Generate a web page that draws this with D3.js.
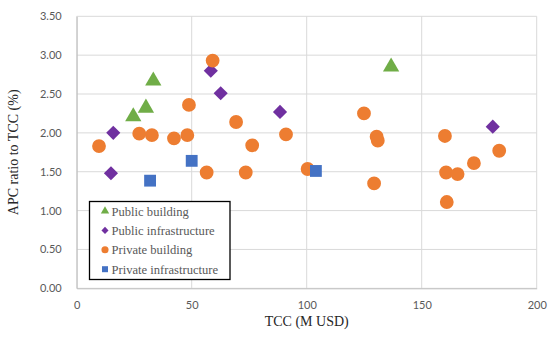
<!DOCTYPE html>
<html>
<head>
<meta charset="utf-8">
<script src="https://cdn.jsdelivr.net/npm/d3@7"></script>
<style>
  body { margin: 0; background: #fff; }
  svg { display: block; }
</style>
</head>
<body>
<svg width="550" height="340"></svg>
<script>
// data: [TCC, APC ratio]
const publicBuilding = [[24.6, 2.21], [30.1, 2.32], [33.3, 2.67], [136.7, 2.85]];
const publicInfra = [[15.9, 2.00], [14.9, 1.48], [58.3, 2.80], [62.6, 2.51], [88.4, 2.27], [180.9, 2.08]];
const privateBuilding = [
  [9.7, 1.83], [27.2, 1.99], [32.7, 1.97], [42.3, 1.93], [48.1, 1.97], [48.8, 2.36],
  [59.1, 2.93], [56.5, 1.49], [69.3, 2.14], [73.5, 1.49], [76.3, 1.84], [91.0, 1.98],
  [100.4, 1.535], [124.9, 2.25], [130.4, 1.95], [130.9, 1.90], [129.3, 1.35],
  [160.1, 1.96], [160.6, 1.49], [165.6, 1.47], [160.9, 1.11], [172.7, 1.61], [183.7, 1.77]
];
const privateInfra = [[31.9, 1.385], [50.0, 1.64], [104.0, 1.51]];
const xTicks = [0, 50, 100, 150, 200];
const yTicks = [0, 0.5, 1, 1.5, 2, 2.5, 3, 3.5];

// diamond = square turned 45 degrees (d3's own diamond is too narrow)
const series = [
  { name: "Public building", data: publicBuilding, color: "#70AD47", shape: d3.symbolTriangle, rot: 0 },
  { name: "Public infrastructure", data: publicInfra, color: "#7030A0", shape: d3.symbolSquare, rot: 45 },
  { name: "Private building", data: privateBuilding, color: "#ED7D31", shape: d3.symbolCircle, rot: 0 },
  { name: "Private infrastructure", data: privateInfra, color: "#4472C4", shape: d3.symbolSquare, rot: 0 }
];
// bigger markers for the plot, small ones for the legend
const plotSize = { "Public building": 115, "Public infrastructure": 100, "Private building": 150, "Private infrastructure": 140 };
const legSize = { "Public building": 30, "Public infrastructure": 25, "Private building": 40, "Private infrastructure": 36 };

const svg = d3.select("svg");
const x = d3.scaleLinear().domain([0, 200]).range([76.7, 536.7]);
const y = d3.scaleLinear().domain([0, 3.5]).range([288.3, 16.3]);

// gridlines
svg.append("g").selectAll("line.v")
  .data(xTicks)
  .join("line")
    .attr("x1", d => x(d)).attr("x2", d => x(d))
    .attr("y1", y(0)).attr("y2", y(3.5))
    .attr("stroke", "#d9d9d9").attr("stroke-width", 1);
svg.append("g").selectAll("line.h")
  .data(yTicks)
  .join("line")
    .attr("x1", x(0)).attr("x2", x(200))
    .attr("y1", d => y(d)).attr("y2", d => y(d))
    .attr("stroke", "#d9d9d9").attr("stroke-width", 1);

// axes
const xAxis = svg.append("g")
  .attr("transform", `translate(0,${y(0)})`)
  .call(d3.axisBottom(x).tickValues(xTicks).tickSize(0).tickPadding(13));
const yAxis = svg.append("g")
  .attr("transform", `translate(${x(0)},0)`)
  .call(d3.axisLeft(y).tickValues(yTicks).tickFormat(d3.format(".2f")).tickSize(0).tickPadding(15));
[xAxis, yAxis].forEach(a => {
  a.select(".domain").attr("stroke", "#bfbfbf");
  a.selectAll("text").attr("fill", "#595959")
    .style("font-family", "Lato, 'Open Sans', sans-serif").style("font-size", "11px");
});

// points
series.forEach(s => {
  const sym = d3.symbol().type(s.shape).size(plotSize[s.name]);
  svg.append("g").selectAll("path")
    .data(s.data)
    .join("path")
      .attr("transform", d => `translate(${x(d[0])},${y(d[1])}) rotate(${s.rot})`)
      .attr("d", sym)
      .attr("fill", s.color);
});

// axis titles
svg.append("text")
  .attr("x", x(100)).attr("y", 326)
  .attr("text-anchor", "middle")
  .attr("fill", "#262626")
  .style("font-family", "'Liberation Serif', 'Times New Roman', serif").style("font-size", "14px")
  .text("TCC (M USD)");
svg.append("text")
  .attr("transform", `translate(18,${(y(0) + y(3.5)) / 2}) rotate(-90)`)
  .attr("text-anchor", "middle")
  .attr("fill", "#262626")
  .style("font-family", "'Liberation Serif', 'Times New Roman', serif").style("font-size", "14px")
  .text("APC ratio to TCC (%)");

// legend
const leg = svg.append("g");
leg.append("rect")
  .attr("x", 89.5).attr("y", 201.5).attr("width", 140.5).attr("height", 78)
  .attr("fill", "#fff").attr("stroke", "#000").attr("stroke-width", 1.3);
series.forEach((s, i) => {
  const cy = 211 + i * 19.4;
  leg.append("path")
    .attr("transform", `translate(105,${cy}) rotate(${s.rot})`)
    .attr("d", d3.symbol().type(s.shape).size(legSize[s.name]))
    .attr("fill", s.color);
  leg.append("text")
    .attr("x", 111.5).attr("y", cy + 4.5)
    .attr("fill", "#595959")
    .style("font-family", "'Liberation Serif', 'Times New Roman', serif").style("font-size", "12.6px")
    .text(s.name);
});
</script>
</body>
</html>
